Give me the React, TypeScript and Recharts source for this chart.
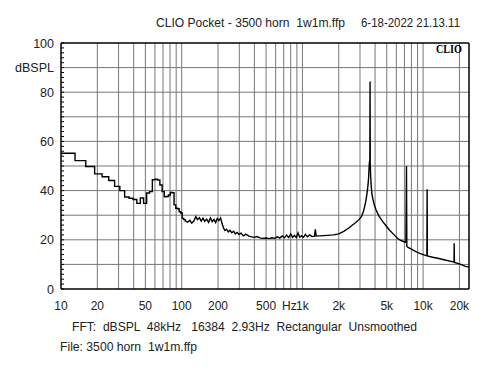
import { LineChart, Line, XAxis, YAxis, CartesianGrid, ReferenceLine } from "recharts";

// low-frequency FFT bins, drawn as steps
const lowFreq = [10, 11.7, 14.6, 17.6, 20.5, 23.4, 26.4, 29.3, 32.2, 35.2, 38.1, 41.0, 44.0, 46.9, 49.8, 52.7, 55.7, 58.6, 61.5, 64.5, 67.4, 70.3, 73.2, 76.2, 79.1, 82.0, 85.0, 87.9, 90.8, 93.8, 96.7, 99.6, 102.5, 105.5, 108.4];
const lowSpl = [55.2, 55.2, 52.2, 49.8, 46.8, 45.6, 44.1, 41.7, 40.0, 37.4, 36.9, 36.4, 34.8, 37.0, 34.8, 39.0, 39.6, 44.4, 44.6, 44.3, 42.3, 39.6, 37.5, 37.6, 38.2, 39.2, 39.1, 34.2, 32.8, 32.6, 31.4, 30.9, 28.7, 28.2, 27.6];

// rest of the spectrum
const highFreq = [108.4, 112, 117, 121, 126, 131, 135, 140, 145, 150, 155, 161, 167, 173, 179, 185, 191, 197, 203, 210, 216, 222, 228, 235, 243, 251, 260, 269, 278, 288, 298, 310, 325, 340, 360, 380, 400, 420, 445, 470, 500, 530, 560, 590, 620, 650, 680, 710, 740, 770, 800, 830, 860, 890, 920, 950, 980, 1020, 1060, 1100, 1150, 1200, 1260, 1280, 1300, 1400, 1500, 1600, 1700, 1800, 1900, 2000, 2200, 2420, 2600, 2770, 2950, 3090, 3200, 3270, 3350, 3430, 3500, 3540, 3570, 3590, 3620, 3635, 3650, 3680, 3710, 3760, 3820, 3950, 4080, 4300, 4630, 4950, 5260, 5700, 6130, 6500, 6970, 7200, 7280, 7330, 7500, 8000, 8700, 9500, 10300, 10750, 10800, 10850, 12000, 13500, 15500, 17400, 18030, 18100, 18170, 20000, 22400, 24000];
const highSpl = [27.6, 27.2, 27.9, 26.8, 27.6, 29.4, 28.2, 29.0, 27.6, 28.8, 27.5, 28.4, 27.1, 28.9, 27.4, 28.3, 27.0, 28.6, 27.8, 28.9, 26.6, 24.8, 23.8, 24.3, 23.2, 23.9, 22.9, 23.5, 22.4, 23.0, 22.2, 22.7, 21.6, 22.3, 21.5, 21.2, 21.0, 21.3, 20.8, 20.6, 20.7, 20.5, 20.8, 20.6, 21.2, 20.7, 21.6, 20.8, 21.9, 20.9, 22.4, 21.0, 21.8, 20.9, 22.8, 21.1, 21.6, 21.0, 22.2, 21.2, 22.0, 21.3, 21.5, 24.3, 21.5, 21.6, 21.7, 21.8, 21.9, 22.0, 22.2, 22.4, 23.4, 24.8, 26.0, 27.0, 28.3, 29.5, 31.5, 33.3, 35.6, 38.9, 42.5, 45.6, 49.5, 51.5, 52.5, 84.3, 50.5, 45.5, 42.5, 39.0, 36.9, 34.0, 32.1, 29.7, 27.4, 25.6, 24.0, 22.2, 20.6, 19.8, 19.2, 19.0, 50.0, 17.4, 16.9, 16.2, 15.2, 14.4, 13.8, 13.5, 40.5, 13.4, 12.9, 12.4, 11.7, 11.1, 10.9, 18.6, 10.8, 10.2, 9.2, 8.9];

const xLabelTicks = [10, 20, 50, 100, 200, 500, 1000, 2000, 5000, 10000, 20000];
const xGridFreqs = [20, 30, 40, 50, 60, 70, 80, 90, 100, 200, 300, 400, 500, 600, 700, 800, 900, 1000, 2000, 3000, 4000, 5000, 6000, 7000, 8000, 9000, 10000, 20000];
const yGridValues = [10, 20, 30, 40, 50, 60, 70, 80, 90];
const yMinorTicks = [0, 2, 4, 6, 8, 10, 12, 14, 16, 18, 20, 22, 24, 26, 28, 30, 32, 34, 36, 38, 40, 42, 44, 46, 48, 50, 52, 54, 56, 58, 60, 62, 64, 66, 68, 70, 72, 74, 76, 78, 80, 82, 84, 86, 88, 90, 92, 94, 96, 98, 100];
const yLabels: Record<number, string> = { 0: "0", 20: "20", 40: "40", 60: "60", 80: "80", 90: "dBSPL", 100: "100" };

const lowData = lowFreq.map((f, i) => ({ f, v: lowSpl[i] }));
const highData = highFreq.map((f, i) => ({ f, v: highSpl[i] }));

const FONT = "'Liberation Sans', Arial, sans-serif";
const TEXT = "#222";

const fmtHz = (v: number) => (v >= 1000 ? `${v / 1000}k` : `${v}`);

function XTick({ x, y, payload }: any) {
  const v = payload.value;
  return (
    <g>
      <text x={x} y={y + 21} textAnchor="middle" fontFamily={FONT} fontSize={12} fill={TEXT}>
        {fmtHz(v)}
      </text>
      {v === 500 && (
        <text x={x + 16} y={y + 21} textAnchor="start" fontFamily={FONT} fontSize={12} fill={TEXT}>
          Hz
        </text>
      )}
    </g>
  );
}

function LeftTick({ x, y, payload }: any) {
  const label = yLabels[payload.value];
  return (
    <g>
      <line x1={x} x2={x + 3} y1={y} y2={y} stroke="#000" />
      {label && (
        <text x={x - 7} y={y + 4.5} textAnchor="end" fontFamily={FONT} fontSize={12.5} fill={TEXT}>
          {label}
        </text>
      )}
    </g>
  );
}

function RightTick({ x, y }: any) {
  return <line x1={x} x2={x - 3} y1={y} y2={y} stroke="#000" />;
}

export default function App() {
  return (
    <div style={{ position: "absolute", left: 0, top: 0, width: 500, height: 375, background: "#fff" }}>
      <LineChart width={500} height={375} margin={{ top: 43, right: 0, bottom: 66, left: 0 }}>
        <CartesianGrid
          yAxisId="l"
          stroke="#777"
          horizontalValues={yGridValues}
          verticalValues={xGridFreqs}
        />
        <XAxis
          dataKey="f"
          type="number"
          scale="log"
          domain={[10, 24000]}
          allowDataOverflow
          ticks={xLabelTicks}
          interval={0}
          height={20}
          tickSize={0}
          tickMargin={0}
          tickLine={false}
          tick={<XTick />}
          axisLine={{ stroke: "#000", strokeWidth: 1.5 }}
        />
        <YAxis
          yAxisId="l"
          type="number"
          domain={[0, 100]}
          ticks={yMinorTicks}
          interval={0}
          width={61}
          tickSize={0}
          tickMargin={0}
          tickLine={false}
          tick={<LeftTick />}
          axisLine={{ stroke: "#000", strokeWidth: 1.5 }}
        />
        <YAxis
          yAxisId="r"
          orientation="right"
          type="number"
          domain={[0, 100]}
          ticks={yMinorTicks}
          interval={0}
          width={31}
          tickSize={0}
          tickMargin={0}
          tickLine={false}
          tick={<RightTick />}
          axisLine={{ stroke: "#000", strokeWidth: 1.5 }}
        />
        <ReferenceLine yAxisId="l" y={100} stroke="#000" strokeWidth={1.5} />
        <Line
          yAxisId="l"
          data={lowData}
          dataKey="v"
          type="step"
          stroke="#000"
          strokeWidth={1.4}
          dot={false}
          isAnimationActive={false}
        />
        <Line
          yAxisId="l"
          data={highData}
          dataKey="v"
          type="linear"
          stroke="#000"
          strokeWidth={1.4}
          dot={false}
          isAnimationActive={false}
        />
      </LineChart>
      <svg width={500} height={375} style={{ position: "absolute", left: 0, top: 0, pointerEvents: "none" }}>
        <g fontFamily={FONT} fontSize={13} fill={TEXT}>
          <text x={156} y={27} textLength={189} lengthAdjust="spacingAndGlyphs" xmlSpace="preserve">
            CLIO Pocket - 3500 horn  1w1m.ffp
          </text>
          <text x={361} y={27} textLength={99} lengthAdjust="spacingAndGlyphs">
            6-18-2022 21.13.11
          </text>
          <text x={72} y={331} textLength={345} lengthAdjust="spacingAndGlyphs" xmlSpace="preserve">
            FFT:  dBSPL  48kHz   16384  2.93Hz  Rectangular  Unsmoothed
          </text>
          <text x={60} y={351} textLength={137} lengthAdjust="spacingAndGlyphs" xmlSpace="preserve">
            File: 3500 horn  1w1m.ffp
          </text>
        </g>
        <text
          x={436}
          y={53}
          textLength={26}
          lengthAdjust="spacingAndGlyphs"
          fontFamily="'Liberation Serif', 'Times New Roman', serif"
          fontWeight="bold"
          fontSize={12}
          fill="#000"
        >
          CLIO
        </text>
      </svg>
    </div>
  );
}
